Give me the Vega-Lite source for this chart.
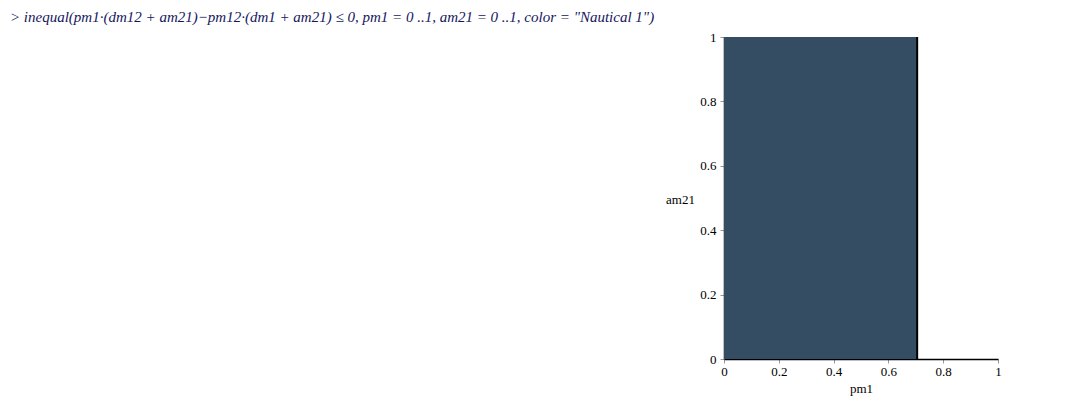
{
  "$schema": "https://vega.github.io/schema/vega-lite/v6.json",
  "autosize": {"type": "none"},
  "padding": {"left": 724, "top": 37, "right": 87, "bottom": 44},
  "width": 274,
  "height": 322,
  "background": "white",
  "config": {"view": {"stroke": null}, "font": "Liberation Serif"},
  "title": {
    "text": "> inequal(pm1·(dm12 + am21)−pm12·(dm1 + am21) ≤ 0, pm1 = 0 ..1, am21 = 0 ..1, color = \"Nautical 1\")",
    "anchor": "start",
    "frame": "group",
    "dx": -714,
    "dy": 19,
    "offset": 13,
    "baseline": "alphabetic",
    "font": "Liberation Serif",
    "fontSize": 15,
    "fontStyle": "italic",
    "fontWeight": "normal",
    "color": "#16165e"
  },
  "data": {"values": [{"pm1_start": 0, "pm1_end": 0.705, "am21_start": 0, "am21_end": 1}]},
  "layer": [
    {
      "mark": {"type": "rect", "color": "#344d63"},
      "encoding": {
        "x": {
          "field": "pm1_start", "type": "quantitative",
          "scale": {"domain": [0, 1], "nice": false, "zero": false},
          "axis": {
            "title": "pm1",
            "values": [0, 0.1, 0.2, 0.3, 0.4, 0.5, 0.6, 0.7, 0.8, 0.9, 1],
            "labelExpr": "(round(datum.value*10) % 2 == 0) ? datum.label : ''",
            "format": "~g",
            "grid": false,
            "domainColor": "black",
            "domainWidth": 1.5,
            "tickColor": "#999999",
            "tickSize": {"condition": {"test": "round(datum.value*10) % 2 == 0", "value": 4}, "value": 2},
            "labelFont": "Liberation Serif",
            "labelFontSize": 13,
            "labelColor": "black",
            "labelPadding": 2,
            "labelFlush": false,
            "titleFont": "Liberation Serif",
            "titleFontSize": 13,
            "titleFontWeight": "normal",
            "titleColor": "black",
            "titlePadding": 4
          }
        },
        "x2": {"field": "pm1_end"},
        "y": {
          "field": "am21_start", "type": "quantitative",
          "scale": {"domain": [0, 1], "nice": false, "zero": false},
          "axis": {
            "title": "am21",
            "values": [0, 0.1, 0.2, 0.3, 0.4, 0.5, 0.6, 0.7, 0.8, 0.9, 1],
            "labelExpr": "(round(datum.value*10) % 2 == 0) ? datum.label : ''",
            "format": "~g",
            "grid": false,
            "domainColor": "black",
            "domainWidth": 1.5,
            "tickColor": "#999999",
            "tickSize": {"condition": {"test": "round(datum.value*10) % 2 == 0", "value": 4}, "value": 2},
            "labelFont": "Liberation Serif",
            "labelFontSize": 13,
            "labelColor": "black",
            "labelPadding": 4,
            "labelFlush": false,
            "titleFont": "Liberation Serif",
            "titleFontSize": 13,
            "titleFontWeight": "normal",
            "titleColor": "black",
            "titleAngle": 0,
            "titleAlign": "center",
            "titleBaseline": "middle",
            "titleX": -44,
            "titleY": 162
          }
        },
        "y2": {"field": "am21_end"}
      }
    },
    {
      "mark": {"type": "rule", "color": "black", "strokeWidth": 2},
      "encoding": {
        "x": {"field": "pm1_end", "type": "quantitative"},
        "y": {"field": "am21_start", "type": "quantitative"},
        "y2": {"field": "am21_end"}
      }
    }
  ]
}
